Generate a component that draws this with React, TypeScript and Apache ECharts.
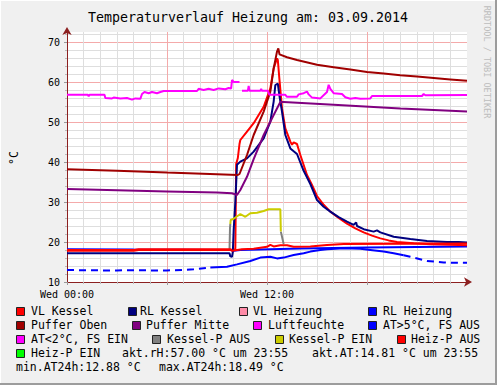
import React, { useEffect, useRef } from "react";
import * as echarts from "echarts";

const FONT = '"DejaVu Sans Mono", monospace';
const TITLE = "Temperaturverlauf Heizung am: 03.09.2014";
const Y_NAME = "°C";
const X_TICK_LABELS: Record<number, string> = { 0: "Wed 00:00", 12: "Wed 12:00" };
const CREDIT = "RRDTOOL / TOBI OETIKER";

type P = [number, number | null];

const vlKessel: P[] = [[0,17.8],[4,17.8],[4.3,18.0],[9.8,18.0],[10.1,18.2],[10.15,39.5],[10.25,41],[10.35,44.5],[10.4,45.5],[10.8,47.6],[11.2,49.7],[11.8,53.8],[12.2,58.4],[12.4,63.4],[12.6,65.9],[12.65,65.5],[12.74,60.9],[12.9,53.4],[13.1,48.4],[13.4,45.1],[13.5,44.3],[13.6,44.9],[13.8,44.5],[14.0,41.75],[14.4,36.75],[14.7,34.25],[15.0,31.5],[15.4,29.3],[15.8,27.6],[16.3,26.0],[16.8,24.6],[17.3,23.4],[17.8,22.4],[18.3,21.6],[18.8,20.9],[19.3,20.4],[19.8,20.0],[20.8,19.7],[21.8,19.45],[23,19.3],[24,19.2]];
const rlKessel: P[] = [[0,17.2],[9.75,17.2],[9.8,16.4],[9.9,16.3],[9.95,17.5],[10.0,23],[10.1,30],[10.2,39.3],[10.4,40.1],[10.8,40.9],[11.2,42.6],[11.8,45.9],[12.2,50.1],[12.4,55.1],[12.5,59.25],[12.65,59.6],[12.74,56.75],[12.9,52.6],[13.1,46.75],[13.4,43.4],[13.8,42.0],[14.2,37.8],[14.6,34.5],[15.0,30.5],[15.4,28.8],[15.8,27.6],[16.3,26.2],[16.8,25.1],[17.2,24.3],[17.35,24.9],[17.4,24.0],[17.8,23.2],[18.4,22.6],[18.6,22.9],[18.8,22.4],[19.6,21.3],[20.6,20.75],[21.6,20.25],[22.8,20.0],[23.5,20.0],[24,19.9]];
const rlHeizung: P[] = [[0,18.2],[4,18.1],[9.8,18.0],[10,17.8],[10.4,18.0],[14,18.4],[18,18.6],[24,18.9]];
const pufferOben: P[] = [[0,38.2],[3,37.8],[6,37.35],[9,36.95],[10.25,36.75],[10.35,37.0],[10.8,41.75],[11.2,46.75],[11.8,52.6],[12.2,57.6],[12.4,63.4],[12.6,67.6],[12.68,68.4],[12.75,66.9],[13.2,66.2],[13.8,65.5],[15,64.3],[16,63.7],[17,63.1],[18,62.5],[19,62.1],[20,61.7],[21,61.35],[22,61.0],[23,60.65],[24,60.3]];
const pufferMitte: P[] = [[0,33.25],[3,32.95],[6,32.65],[9,32.35],[9.9,32.2],[10.2,31.75],[10.4,33],[10.8,36.3],[11.2,40.7],[11.8,46.75],[12.4,51.75],[12.8,55.0],[13,55.0],[16,54.3],[20,53.4],[24,52.6]];
const luftfeuchte: P[] = [[0,56.8],[1.25,56.8],[1.3,56.4],[1.35,56.8],[2.25,56.8],[2.3,56.0],[2.7,55.9],[2.8,56.1],[3.2,55.9],[3.6,56.0],[3.9,55.6],[4.1,55.9],[4.4,55.8],[4.5,57.0],[4.65,57.5],[4.9,57.2],[5.1,57.5],[5.4,57.2],[5.6,57.5],[5.8,57.75],[7.8,57.75],[7.9,58.3],[8.2,58.0],[8.5,58.3],[8.8,58.0],[9.1,58.4],[9.5,58.2],[9.7,58.5],[9.85,58.4],[9.9,60.5],[10.0,60.0],[10.35,60.0],[10.42,null],[10.5,57.8],[10.85,57.8],[10.9,59.0],[10.95,57.8],[11.6,57.8],[11.65,58.3],[11.7,57.8],[12.05,57.8],[12.15,56.8],[13.1,56.8],[13.2,56.3],[13.8,56.3],[13.9,56.9],[14.2,57.2],[14.4,57.6],[14.5,56.9],[14.7,56.1],[15.2,55.9],[15.6,57.5],[15.7,59.3],[15.8,58.3],[16.0,57.2],[16.5,57.0],[16.7,56.2],[17,55.8],[17.3,56.0],[17.6,55.8],[18.2,55.9],[18.3,56.5],[21.3,56.5],[21.4,57.0],[21.5,56.7],[24,56.75]];
const atDashedA: P[] = [[0,13.0],[1,12.95],[2,12.9],[3,12.9],[4,12.95],[5,12.9],[6,12.9],[7,13.0],[7.6,13.2],[8.6,13.6]];
const atSolid: P[] = [[8.6,13.6],[9.6,13.8],[10.2,14.4],[11,15.25],[11.6,16.1],[12.2,16.3],[12.6,15.9],[13,16.1],[13.6,16.75],[14.2,17.2],[14.6,17.6],[15.2,18.0],[15.6,18.2],[16.6,18.45],[17.6,18.3],[18.2,18.0],[19.0,17.6],[19.6,17.2],[20.2,16.7]];
const atDashedB: P[] = [[20.2,16.7],[20.6,16.3],[21.6,15.25],[22.6,14.9],[23.3,14.8],[24,14.8]];
const kesselEin: P[] = [[9.8,24.5],[9.82,25.5],[10.0,25.8],[10.4,27.0],[10.7,26.3],[11.0,27.2],[11.4,27.3],[11.8,27.75],[12.1,28.2],[12.8,28.2],[12.83,22.6]];
const kesselAus: P[] = [[9.75,18.0],[9.78,23.5],[9.8,24.5],[11,null],[12.83,22.6],[13.0,19.5]];
const heizAus: P[] = [[0,18.0],[4,18.0],[4.3,18.2],[9.8,18.2],[9.9,17.8],[10.5,18.2],[11.2,18.3],[12.0,18.8],[12.2,19.3],[12.4,18.9],[12.8,19.2],[13.2,19.2],[13.6,18.8],[14.6,18.9],[15.6,19.25],[16.6,19.5],[24,19.6]];

const LEGEND_NAMES = ["VL Kessel","RL Kessel","VL Heizung","RL Heizung","Puffer Oben","Puffer Mitte","Luftfeuchte","AT>5°C, FS AUS","AT<2°C, FS EIN","Kessel-P AUS","Kessel-P EIN","Heiz-P AUS","Heiz-P EIN"];
const LEGEND_COLORS = ["#ff0000","#000080","#ff8ca8","#0000ff","#a00000","#800080","#ff00ff","#0000ff","#ff00ff","#808080","#cccc00","#ff0000","#00ff00"];
const STATUS_TEXTS = ["akt.rH:57.00 °C um 23:55","akt.AT:14.81 °C um 23:55","min.AT24h:12.88 °C","max.AT24h:18.49 °C"];

// layout: [boxX, rowCenterY, textX]
const LEGEND_LAYOUT: [number, number, number][] = [
  [16,311,31],[128,311,140],[239,311,253],[368,311,383],
  [16,325,31],[132,325,146],[253,325,268],[368,325,383],
  [16,339,31],[152,339,167],[275,339,289],[397,339,411],
  [16,353,31],
];
const STATUS_LAYOUT: [number, number][] = [[122,353],[312,353],[16,367],[159,367]];

export default function App() {
  const ref = useRef<HTMLDivElement>(null);
  useEffect(() => {
    document.body.style.margin = "0";
    const chart = echarts.init(ref.current!, null, { renderer: "svg" });
    const line = (name: string, data: P[], color: string, dashed = false) => ({
      name, type: "line", data, showSymbol: false, symbol: "none",
      xAxisIndex: 1, yAxisIndex: 1, connectNulls: false,
      lineStyle: { color, width: 2, type: dashed ? [7, 5] : "solid" },
      itemStyle: { color }, silent: true,
    });
    const graphics: any[] = [
      { type: "rect", shape: { x: 0, y: 0, width: 497, height: 385 }, style: { fill: "none", stroke: "#ffffff", lineWidth: 2 }, z: -1 },
      { type: "line", shape: { x1: 0, y1: 384, x2: 497, y2: 384 }, style: { stroke: "#9c9c9c", lineWidth: 2 } },
      { type: "line", shape: { x1: 496, y1: 0, x2: 496, y2: 385 }, style: { stroke: "#9c9c9c", lineWidth: 2 } },
      { type: "text", x: 248, y: 17, style: { text: TITLE, font: `13.3px ${FONT}`, fill: "#000", align: "center", verticalAlign: "middle" } },
      { type: "text", x: 14, y: 158, rotation: Math.PI / 2, style: { text: Y_NAME, font: `11.5px ${FONT}`, fill: "#000", align: "center", verticalAlign: "middle" } },
      { type: "text", x: 487, y: 62, rotation: -Math.PI / 2, style: { text: CREDIT, font: `8.5px ${FONT}`, fill: "#bdbdbd", align: "center", verticalAlign: "middle" } },
    ];
    LEGEND_LAYOUT.forEach(([bx, cy, tx], i) => {
      graphics.push({ type: "rect", shape: { x: bx + 0.5, y: cy - 3.5, width: 8, height: 8 }, style: { fill: LEGEND_COLORS[i], stroke: "#222", lineWidth: 1 } });
      graphics.push({ type: "text", x: tx, y: cy, style: { text: LEGEND_NAMES[i], font: `11.5px ${FONT}`, fill: "#000", align: "left", verticalAlign: "middle" } });
    });
    STATUS_LAYOUT.forEach(([tx, cy], i) => {
      graphics.push({ type: "text", x: tx, y: cy, style: { text: STATUS_TEXTS[i], font: `11.5px ${FONT}`, fill: "#000", align: "left", verticalAlign: "middle" } });
    });
    const axisLbl = { fontFamily: FONT, fontSize: 10, color: "#000" };
    chart.setOption({
      animation: false,
      backgroundColor: "#f0f0f0",
      grid: { left: 67, top: 32, width: 400, height: 250, show: true, backgroundColor: "#ffffff", borderWidth: 0 },
      xAxis: [
        { type: "value", min: 0, max: 24, interval: 1, position: "bottom",
          axisLine: { show: false }, axisLabel: { show: false },
          axisTick: { show: true, length: 2, lineStyle: { color: "#bbb" } },
          splitLine: { show: true, showMaxLine: false, lineStyle: { color: "#dedede", width: 1 } } },
        { type: "value", min: 0, max: 24, interval: 6, position: "bottom",
          axisLine: { show: true, symbol: ["none", "arrow"], symbolSize: [7, 8], symbolOffset: [0, 5], lineStyle: { color: "#8c2020", width: 1 } },
          axisTick: { show: true, length: 3, lineStyle: { color: "#999" } },
          axisLabel: { ...axisLbl, margin: 7, showMaxLabel: false, formatter: (v: number) => X_TICK_LABELS[v] ?? "" },
          splitLine: { show: true, showMinLine: false, showMaxLine: false, lineStyle: { color: "#f4aaaa", width: 1 } } },
      ],
      yAxis: [
        { type: "value", min: 10, max: 72.5, interval: 2, position: "left",
          axisLine: { show: false }, axisLabel: { show: false },
          axisTick: { show: true, length: 2, lineStyle: { color: "#bbb" } },
          splitLine: { show: true, showMaxLine: false, lineStyle: { color: "#dedede", width: 1 } } },
        { type: "value", min: 10, max: 72.5, interval: 10, position: "left",
          axisLine: { show: true, symbol: ["none", "arrow"], symbolSize: [7, 8], symbolOffset: [0, 5], lineStyle: { color: "#8c2020", width: 1 } },
          axisTick: { show: true, length: 3, lineStyle: { color: "#999" } },
          axisLabel: { ...axisLbl, margin: 7, showMaxLabel: false, formatter: (v: number) => (v % 10 === 0 ? String(v) : "") },
          splitLine: { show: true, showMinLine: false, showMaxLine: false, lineStyle: { color: "#f4aaaa", width: 1 } } },
      ],
      series: [
        line("RL Heizung", rlHeizung, "#0000ff"),
        line("AT>5°C, FS AUS", atDashedA, "#0000ff", true),
        line("AT>5°C, FS AUS ", atSolid, "#0000ff"),
        line("AT>5°C, FS AUS  ", atDashedB, "#0000ff", true),
        line("VL Kessel", vlKessel, "#ff0000"),
        line("RL Kessel", rlKessel, "#000080"),
        line("Puffer Oben", pufferOben, "#a00000"),
        line("Puffer Mitte", pufferMitte, "#800080"),
        line("Luftfeuchte", luftfeuchte, "#ff00ff"),
        line("Kessel-P AUS", kesselAus, "#808080"),
        line("Kessel-P EIN", kesselEin, "#cccc00"),
        line("Heiz-P AUS", heizAus, "#ff0000"),
      ],
      graphic: graphics,
    });
    return () => chart.dispose();
  }, []);
  return <div ref={ref} style={{ width: 497, height: 385 }} />;
}
